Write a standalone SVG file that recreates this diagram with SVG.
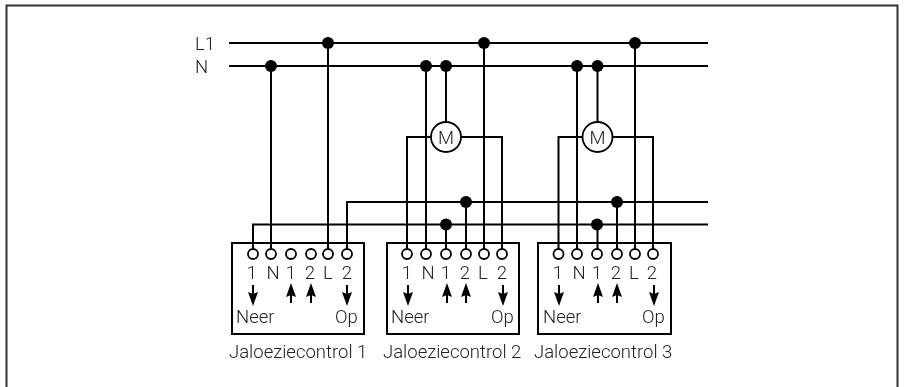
<svg xmlns="http://www.w3.org/2000/svg" width="905" height="387" viewBox="0 0 905 387">
<style>
.w{fill:none;stroke:#000;stroke-width:2}
.d{fill:#000}
.t{fill:#fff;stroke:#000;stroke-width:1.800}
.b{fill:none;stroke:#000;stroke-width:2}
text{font-family:Roboto,"Liberation Sans",sans-serif;font-size:18.500px;font-weight:300;fill:#222;filter:url(#gray)}
.m{text-anchor:middle}
.a{fill:none;stroke:#000;stroke-width:2}
</style>
<defs>
<filter id="gray" x="-20%" y="-20%" width="140%" height="140%" color-interpolation-filters="sRGB"><feOffset dx="0" dy="0"/></filter>
<g id="dn"><path class="a" d="M0 0V10"/><path class="d" d="M-5 7L0 9L5 7L0 21Z"/></g>
<g id="up"><path class="a" d="M0 0V-10"/><path class="d" d="M-5 -6L0 -8L5 -6L0 -20Z"/></g>
<circle id="dot" class="d" r="6"/>
<circle id="term" class="t" r="5"/>
</defs>
<path id="frame" d="M6.500 387V5.500H897.500V387" fill="none" stroke="#333" stroke-width="2"/>
<g id="connectors">
<path class="w" d="M229 43H708M229 66H708M347 254V202H708M253 254V224.500H708"/>
<path class="w" d="M271 66V254M328 43V254"/>
<path class="w" d="M426 66V254M446 66V122M484 43V254M431 137H407V254M461 137H502V254M446 224.500V254M466 202V254"/>
<path class="w" d="M577 66V254M597.500 66V122M635 43V254M582.500 137H558.500V254M612.500 137H653V254M597.500 224.500V254M617 202V254"/>
<use href="#dot" x="328" y="43"/><use href="#dot" x="484" y="43"/><use href="#dot" x="635" y="43"/>
<use href="#dot" x="271" y="66"/><use href="#dot" x="426" y="66"/><use href="#dot" x="446" y="66"/><use href="#dot" x="577" y="66"/><use href="#dot" x="597.500" y="66"/>
<use href="#dot" x="466" y="202"/><use href="#dot" x="446" y="224.500"/><use href="#dot" x="617" y="202"/><use href="#dot" x="597" y="224.500"/>
</g>
<g id="bus-labels"><text x="195" y="50">L1</text><text x="195" y="73">N</text></g>
<g id="motor-1"><circle class="t" cx="446" cy="137" r="15"/><text class="m" x="446" y="144">M</text></g>
<g id="motor-2"><circle class="t" cx="597.500" cy="137" r="15"/><text class="m" x="597.500" y="144">M</text></g>
<g id="control-1">
<rect class="b" x="232" y="243" width="132" height="91"/>
<use href="#term" x="253" y="254"/><use href="#term" x="271" y="254"/><use href="#term" x="291" y="254"/><use href="#term" x="311" y="254"/><use href="#term" x="328" y="254"/><use href="#term" x="347" y="254"/>
<text class="m" x="252" y="279">1</text><text class="m" x="273" y="279">N</text><text class="m" x="291" y="279">1</text><text class="m" x="310" y="279">2</text><text class="m" x="328" y="279">L</text><text class="m" x="347" y="279">2</text>
<use href="#dn" x="253" y="285"/><use href="#up" x="291" y="303"/><use href="#up" x="311" y="303"/><use href="#dn" x="347" y="285"/>
<text x="236" y="323">Neer</text><text x="335" y="323">Op</text>
<text x="229" y="358">Jaloeziecontrol 1</text>
</g>
<g id="control-2">
<rect class="b" x="387" y="243" width="132" height="91"/>
<use href="#term" x="407" y="254"/><use href="#term" x="426" y="254"/><use href="#term" x="446" y="254"/><use href="#term" x="466" y="254"/><use href="#term" x="484" y="254"/><use href="#term" x="502" y="254"/>
<text class="m" x="407" y="279">1</text><text class="m" x="428" y="279">N</text><text class="m" x="446" y="279">1</text><text class="m" x="465" y="279">2</text><text class="m" x="483" y="279">L</text><text class="m" x="502" y="279">2</text>
<use href="#dn" x="408" y="285"/><use href="#up" x="447" y="303"/><use href="#up" x="466" y="303"/><use href="#dn" x="503" y="285"/>
<text x="391" y="323">Neer</text><text x="491" y="323">Op</text>
<text x="383" y="358">Jaloeziecontrol 2</text>
</g>
<g id="control-3">
<rect class="b" x="538" y="243" width="133" height="91"/>
<use href="#term" x="558.500" y="254"/><use href="#term" x="577" y="254"/><use href="#term" x="597" y="254"/><use href="#term" x="617" y="254"/><use href="#term" x="635" y="254"/><use href="#term" x="653" y="254"/>
<text class="m" x="558" y="279">1</text><text class="m" x="579" y="279">N</text><text class="m" x="597" y="279">1</text><text class="m" x="616" y="279">2</text><text class="m" x="634" y="279">L</text><text class="m" x="652" y="279">2</text>
<use href="#dn" x="559" y="285"/><use href="#up" x="598" y="303"/><use href="#up" x="617" y="303"/><use href="#dn" x="654" y="285"/>
<text x="543" y="323">Neer</text><text x="642" y="323">Op</text>
<text x="534" y="358">Jaloeziecontrol 3</text>
</g>
</svg>
